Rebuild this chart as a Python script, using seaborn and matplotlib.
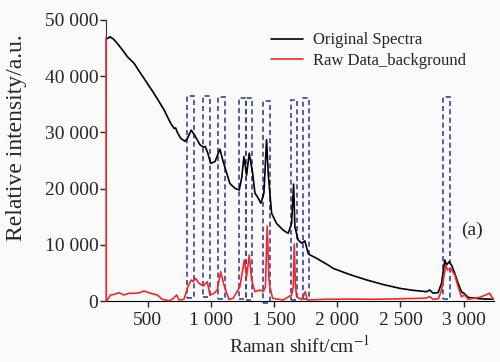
import numpy as np
import pandas as pd
import seaborn as sns
import matplotlib.pyplot as plt
from matplotlib.patches import Rectangle
from matplotlib.ticker import FuncFormatter

# Espectro original (negro)
orig_x = [171, 190, 203, 230, 260, 300, 340, 393, 430, 472, 510, 550, 590, 630, 683, 710,
          722, 735, 762, 796, 814, 845, 872, 914, 940, 955, 975, 999, 1033, 1072, 1098,
          1151, 1191, 1225, 1245, 1262, 1283, 1304, 1331, 1349, 1367, 1396, 1420, 1441,
          1454, 1481, 1520, 1573, 1612, 1639, 1655, 1665, 1691, 1718, 1744, 1770, 1784,
          1837, 1928, 1968, 2100, 2232, 2360, 2495, 2600, 2706, 2732, 2758, 2798, 2825,
          2851, 2864, 2885, 2904, 2930, 2956, 2983, 3009, 3035, 3128, 3240]
orig_y = [46600, 46800, 47000, 46600, 45850, 44700, 43470, 42300, 41000, 39600, 38300,
          36950, 35500, 34000, 31600, 30700, 30800, 30000, 28950, 28400, 28900, 30400,
          29500, 27800, 27400, 27500, 26400, 24500, 24800, 27000, 24800, 20900, 20050,
          19750, 22000, 25700, 22400, 26300, 22700, 19200, 18600, 17400, 19200, 28700,
          22700, 15600, 13800, 12600, 12050, 13800, 20800, 13200, 10850, 10300, 10700,
          8500, 8200, 7600, 6400, 5800, 4700, 3750, 2950, 2250, 1900, 1660, 1950, 1400,
          1500, 3150, 7300, 6400, 7000, 6400, 4900, 3150, 1650, 1250, 650, 400, 300]

# Datos sin fondo (rojo)
raw_x = [171, 173, 181, 208, 240, 274, 313, 353, 406, 440, 472, 524, 577, 616, 669, 695,
         730, 748, 788, 819, 845, 861, 880, 906, 940, 972, 993, 1025, 1051, 1078, 1104,
         1143, 1177, 1230, 1265, 1283, 1304, 1323, 1349, 1388, 1415, 1432, 1446, 1460,
         1467, 1489, 1573, 1639, 1652, 1660, 1670, 1679, 1718, 1747, 1763, 1900, 2100,
         2300, 2500, 2700, 2732, 2758, 2800, 2825, 2859, 2872, 2896, 2930, 2956, 2983,
         3009, 3035, 3128, 3207, 3233]
raw_y = [46800, 0, 180, 1070, 1200, 1480, 1070, 1370, 1370, 1500, 1780, 1370, 1070, 300,
         50, 300, 1070, 180, 300, 2550, 3740, 3440, 4040, 3150, 2670, 3440, 1070, 1370,
         1960, 5210, 2850, 300, 480, 2540, 7300, 4330, 8190, 3740, 1660, 1960, 1660, 2500,
         13350, 4000, 2540, 480, 180, 1070, 2500, 10140, 2500, 770, 240, 1660, 180, 300,
         350, 300, 400, 500, 770, 300, 400, 1960, 6400, 5520, 5820, 4630, 2550, 770, 1070,
         300, 660, 1370, 300]

# Recuadros discontinuos de las bandas
box_left = [815, 940, 1055, 1225, 1280, 1415, 1632, 1732, 2838]
box_right = [868, 993, 1112, 1275, 1328, 1468, 1683, 1778, 2890]
box_bottom = [600, 700, 300, 400, 200, -400, 100, 300, 350]
box_top = [36450, 36400, 36300, 36100, 36100, 35650, 35750, 36050, 36350]

sns.set_style("ticks")
plt.rcParams['font.family'] = ['Liberation Serif', 'DejaVu Serif']
plt.rcParams['mathtext.fontset'] = 'stix'

fig = plt.figure(figsize=(5, 3.62), dpi=100, facecolor='#fafafa')
ax = fig.add_axes([0.212, 0.1685, 0.776, 0.7763])
ax.set_facecolor('#fafafa')

df_orig = pd.DataFrame({'x': orig_x, 'y': orig_y})
df_raw = pd.DataFrame({'x': raw_x, 'y': raw_y})

for l, r, b, t in zip(box_left, box_right, box_bottom, box_top):
    ax.add_patch(Rectangle((l, b), r - l, t - b, fill=False, edgecolor='#3a3f9c',
                           linestyle=(0, (3, 2)), linewidth=1.2, clip_on=False, zorder=1))

sns.lineplot(data=df_orig, x='x', y='y', color='black', linewidth=1.2, ax=ax,
             label='Original Spectra', zorder=3)
sns.lineplot(data=df_raw, x='x', y='y', color='#f02828', linewidth=1.2, ax=ax,
             label='Raw Data_background', zorder=3, clip_on=False)

ax.set_xlim(171, 3240)
ax.set_ylim(0, 50000)
ax.set_xticks([500, 1000, 1500, 2000, 2500, 3000])
ax.set_yticks([0, 10000, 20000, 30000, 40000, 50000])
fmt = FuncFormatter(lambda v, p: f"{int(v):,}".replace(",", " "))
ax.xaxis.set_major_formatter(fmt)
ax.yaxis.set_major_formatter(fmt)
ax.tick_params(axis='both', labelsize=14, length=4.5, width=1, direction='out')
ax.tick_params(axis='y', pad=1)
ax.tick_params(axis='x', pad=3.5)

sns.despine(ax=ax)
ax.spines['left'].set_color('#333333')
ax.spines['bottom'].set_color('black')

ax.set_xlabel('Raman shift/cm$^{-1}$', fontsize=14, labelpad=4)
ax.set_ylabel('Relative intensity/a.u.', fontsize=17)
ax.yaxis.set_label_coords(-0.203, 0.58)

ax.text(3064, 12600, '(a)', fontsize=14, ha='center', va='center')

ax.legend(loc='upper left', bbox_to_anchor=(0.425, 0.956), frameon=False, fontsize=12,
          borderpad=0, borderaxespad=0, handlelength=1.9, handletextpad=0.6,
          labelspacing=0.25)

plt.savefig('out.png', dpi=100, facecolor=fig.get_facecolor())
